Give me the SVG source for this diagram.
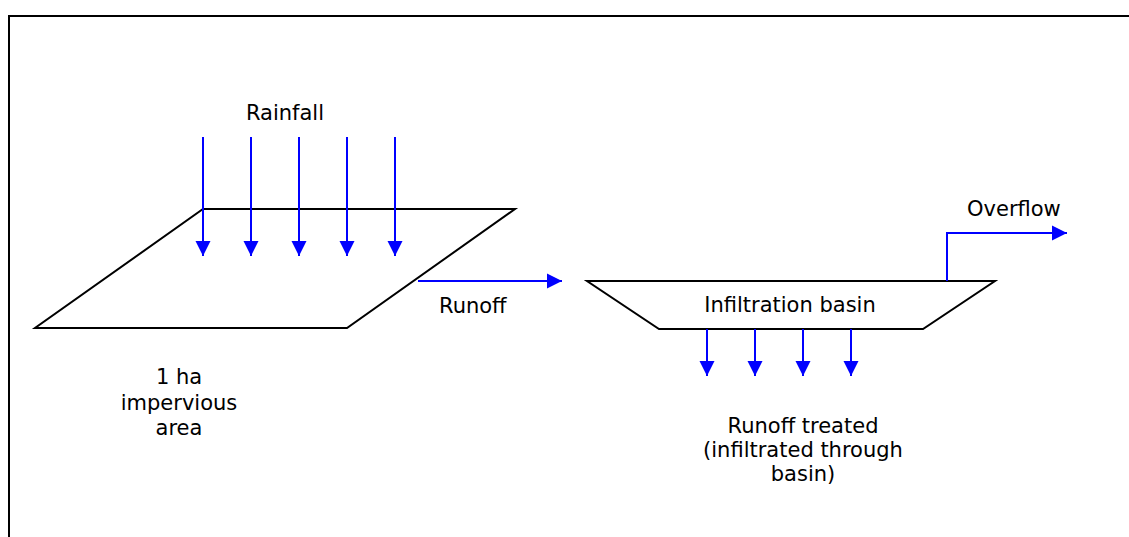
<svg xmlns="http://www.w3.org/2000/svg" width="1129" height="537" viewBox="0 0 1129 537">
<style>
.shape{fill:none;stroke:#000;stroke-width:2}
.flow{fill:none;stroke:#0000ff;stroke-width:2}
text{font-family:"DejaVu Sans","Verdana",sans-serif;font-size:21px;fill:#000}
</style>
<defs>
<marker id="ah" markerUnits="userSpaceOnUse" markerWidth="16" markerHeight="16" viewBox="0 0 16 16" refX="15" refY="8" orient="auto">
<path d="M0,0.5 L15,8 L0,15.5 Z" fill="#0000ff"/>
</marker>
</defs>
<rect width="1129" height="537" fill="#fff"/>
<path class="shape" d="M9,540 V16 H1135"/>
<g id="impervious-area">
<polygon class="shape" points="203,209 515,209 347,328 35,328"/>
<text x="179" y="384" text-anchor="middle">1 ha</text>
<text x="179" y="410" text-anchor="middle">impervious</text>
<text x="179" y="435" text-anchor="middle">area</text>
</g>
<g id="infiltration-basin">
<polygon class="shape" points="587,281 995,281 923,329 659,329"/>
<text x="790" y="312" text-anchor="middle">Infiltration basin</text>
</g>
<g id="rainfall-label"><text x="285" y="120" text-anchor="middle">Rainfall</text></g>
<g id="runoff-label"><text x="439" y="313">Runoff</text></g>
<g id="overflow-label"><text x="967" y="216">Overflow</text></g>
<g id="treated-label">
<text x="803" y="433" text-anchor="middle">Runoff treated</text>
<text x="803" y="457" text-anchor="middle">(infiltrated through</text>
<text x="803" y="481" text-anchor="middle">basin)</text>
</g>
<g id="connectors">
<line class="flow" x1="203" y1="137" x2="203" y2="256" marker-end="url(#ah)"/>
<line class="flow" x1="251" y1="137" x2="251" y2="256" marker-end="url(#ah)"/>
<line class="flow" x1="299" y1="137" x2="299" y2="256" marker-end="url(#ah)"/>
<line class="flow" x1="347" y1="137" x2="347" y2="256" marker-end="url(#ah)"/>
<line class="flow" x1="395" y1="137" x2="395" y2="256" marker-end="url(#ah)"/>
<line class="flow" x1="418" y1="281" x2="562" y2="281" marker-end="url(#ah)"/>
<line class="flow" x1="707" y1="329" x2="707" y2="376" marker-end="url(#ah)"/>
<line class="flow" x1="755" y1="329" x2="755" y2="376" marker-end="url(#ah)"/>
<line class="flow" x1="803" y1="329" x2="803" y2="376" marker-end="url(#ah)"/>
<line class="flow" x1="851" y1="329" x2="851" y2="376" marker-end="url(#ah)"/>
<polyline class="flow" points="947,281 947,233 1067,233" marker-end="url(#ah)"/>
</g>
</svg>
